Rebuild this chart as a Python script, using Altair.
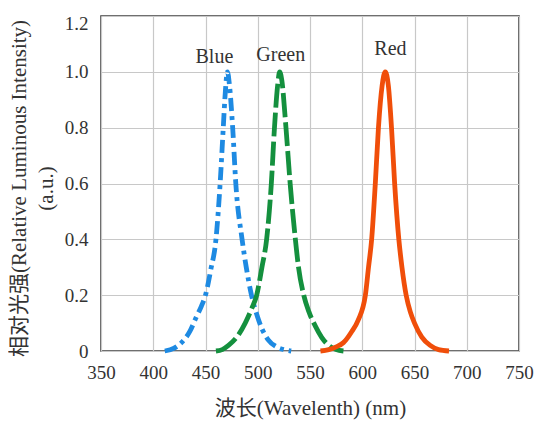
import altair as alt
import pandas as pd

# ---- data ----
blue_nm = [411, 420, 427, 435, 441, 446, 450, 455, 460, 464, 467, 469, 471, 473, 476, 479, 485, 489, 494, 500, 504, 510, 518, 525, 532]
blue_val = [0.0, 0.01, 0.03, 0.07, 0.12, 0.16, 0.2, 0.29, 0.4, 0.6, 0.8, 0.93, 1.0, 0.95, 0.8, 0.6, 0.4, 0.3, 0.2, 0.12, 0.08, 0.04, 0.015, 0.005, 0.0]

green_nm = [460, 466, 472, 480, 488, 494, 499, 504, 508.5, 513, 516, 519, 521, 523, 527, 531, 536, 539, 544, 549, 555, 561, 568, 575, 582]
green_val = [0.0, 0.005, 0.02, 0.05, 0.1, 0.15, 0.2, 0.3, 0.4, 0.6, 0.8, 0.95, 1.0, 0.97, 0.8, 0.6, 0.4, 0.3, 0.2, 0.14, 0.09, 0.05, 0.02, 0.005, 0.0]

red_nm = [560, 568, 575, 582, 590, 596, 603, 606, 609, 612.5, 615.5, 619, 622, 625, 628, 631, 635, 638, 642, 646, 650, 657, 665, 673, 683]
red_val = [0.0, 0.005, 0.015, 0.03, 0.07, 0.11, 0.2, 0.3, 0.4, 0.6, 0.8, 0.95, 1.0, 0.95, 0.8, 0.6, 0.4, 0.3, 0.2, 0.14, 0.1, 0.05, 0.02, 0.005, 0.0]

label_text = ["Blue", "Green", "Red"]
label_nm = [458.5, 522, 627]
label_val = [1.053, 1.060, 1.083]

x_ticks = [350, 400, 450, 500, 550, 600, 650, 700, 750]
y_ticks = [0, 0.2, 0.4, 0.6, 0.8, 1.0, 1.2]

x_title = "波长(Wavelenth) (nm)"
y_title = ["相对光强(Relative Luminous Intensity)", "(a.u.)" + "\u00a0" * 11]

SERIF = "Liberation Serif, Noto Sans CJK SC, serif"


def frame(nm, val):
    return pd.DataFrame({"wavelength": nm, "intensity": val})


x_enc = alt.X(
    "wavelength:Q",
    scale=alt.Scale(domain=[350, 750], nice=False, zero=False),
    axis=alt.Axis(
        values=x_ticks,
        title=x_title,
        labelPadding=12,
        labelFlush=False,
        titleY=57,
        titleBaseline="middle",
    ),
)
y_enc = alt.Y(
    "intensity:Q",
    scale=alt.Scale(domain=[0, 1.2], nice=False),
    axis=alt.Axis(
        values=y_ticks,
        title=y_title,
        labelExpr="datum.value == 0 ? '0' : format(datum.value, '.1f')",
        labelPadding=13,
        labelFlush=False,
        labelOffset={"condition": {"test": "datum.value > 1.1", "value": 7}, "value": 0},
        titleX=-82,
        titleY=172,
        titleAlign="center",
        titleBaseline="middle",
        titleLineHeight=27,
    ),
)

line_style = dict(strokeWidth=4.8, interpolate="monotone", strokeCap="butt")

blue = alt.Chart(frame(blue_nm, blue_val)).mark_line(
    color="#1E8AE2", strokeDash=[13, 5, 4, 5], **line_style
).encode(x=x_enc, y=y_enc)

green = alt.Chart(frame(green_nm, green_val)).mark_line(
    color="#14903E", strokeDash=[24, 5], **line_style
).encode(x=x_enc, y=y_enc)

red = alt.Chart(frame(red_nm, red_val)).mark_line(
    color="#F04E0A", **line_style
).encode(x=x_enc, y=y_enc)

labels = alt.Chart(
    pd.DataFrame({"wavelength": label_nm, "intensity": label_val, "text": label_text})
).mark_text(
    font=SERIF, fontSize=20, color="#333333", baseline="middle", align="center"
).encode(x=x_enc, y=y_enc, text="text:N")

chart = (
    alt.layer(blue, green, red, labels)
    .properties(
        width=418,
        height=335,
        autosize=alt.AutoSizeParams(type="none"),
        padding={"left": 93, "top": 8, "right": 15, "bottom": 70},
    )
    .configure(font=SERIF)
    .configure_view(stroke="#404040", strokeWidth=1.6)
    .configure_axis(
        labelFont=SERIF,
        labelFontSize=19,
        labelColor="#333333",
        titleFont=SERIF,
        titleFontSize=21,
        titleFontWeight="normal",
        titleColor="#333333",
        gridColor="#c8c8c8",
        gridWidth=1.2,
        domain=False,
        ticks=False,
        tickSize=0,
    )
)

chart.save("out.html", embed_options={"renderer": "svg", "actions": False})
